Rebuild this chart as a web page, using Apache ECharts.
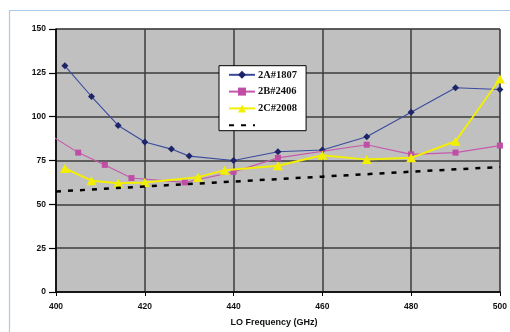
<!DOCTYPE html>
<html>
<head>
<meta charset="utf-8">
<script src="https://cdn.jsdelivr.net/npm/echarts@6/dist/echarts.min.js"></script>
<style>
  html, body { margin: 0; padding: 0; background: #ffffff; }
  #chart { width: 510px; height: 332px; }
</style>
</head>
<body>
<div id="chart"></div>
<script>
// LO frequency sweeps (GHz) and measured values for each device
const freqA = [402, 408, 414, 420, 426, 430, 440, 450, 460, 470, 480, 490, 500];
const valsA = [129, 111.5, 95, 85.5, 81.5, 77.5, 75, 80, 81, 88.5, 102.5, 116.5, 115.5];

const freqB = [399, 405, 411, 417, 429, 440, 450, 470, 480, 490, 500, 501.6];
const valsB = [89, 79.5, 72.5, 65, 62.5, 68.5, 76.5, 84, 78.5, 79.5, 83.5, 88.7];

const freqC = [402, 408, 414, 420, 432, 438, 450, 460, 470, 480, 490, 500];
const valsC = [70.5, 63.5, 62, 62.5, 65.5, 69.5, 72, 78, 75.5, 76.5, 86, 121.5];

// reference trend line
const freqD = [400, 420, 440, 460, 480, 500];
const valsD = [57.3, 60.2, 63, 65.8, 68.6, 71.3];

const seriesNames = ['2A#1807', '2B#2406', '2C#2008', ' '];
const xTicks = { min: 400, max: 500, step: 20 };
const yTicks = { min: 0, max: 150, step: 25 };

function pairs(xs, ys) {
  return xs.map((x, i) => [x, ys[i]]);
}

// end points of the 2B trace carry no marker
const dataB = pairs(freqB, valsB).map((p, i, arr) =>
  (i === 0 || i === arr.length - 1) ? { value: p, symbol: 'none' } : p);

const chart = echarts.init(document.getElementById('chart'), null, { renderer: 'canvas' });

const axisFont = {
  fontFamily: 'Liberation Sans, Arial, sans-serif',
  fontWeight: 'bold',
  fontSize: 8.5,
  color: '#111'
};

chart.setOption({
  animation: false,
  backgroundColor: '#ffffff',
  graphic: [
    {
      type: 'rect',
      silent: true,
      z: -10,
      shape: { x: 9.5, y: 10.5, width: 600, height: 400 },
      style: { fill: 'none', stroke: '#a9cbea', lineWidth: 1.2 }
    }
  ],
  grid: {
    left: 56,
    right: 7.3,
    top: 29,
    bottom: 38,
    show: true,
    backgroundColor: '#c0c0c0',
    borderColor: '#8a8a8a',
    borderWidth: 1
  },
  legend: {
    orient: 'vertical',
    left: 219,
    top: 65.7,
    backgroundColor: '#ffffff',
    borderColor: '#000000',
    borderWidth: 1,
    borderRadius: 0,
    padding: [3.6, 9, 0, 9],
    itemWidth: 26,
    itemHeight: 10,
    itemGap: 5.8,
    data: [
      seriesNames[0],
      seriesNames[1],
      seriesNames[2],
      { name: seriesNames[3], itemStyle: { opacity: 0 } }
    ],
    textStyle: {
      fontFamily: 'Liberation Serif, Times New Roman, serif',
      fontWeight: 'bold',
      fontSize: 10.5,
      lineHeight: 10,
      color: '#111',
      padding: [0, 0, 0, -2]
    }
  },
  xAxis: {
    type: 'value',
    min: xTicks.min,
    max: xTicks.max,
    interval: xTicks.step,
    name: 'LO Frequency (GHz)',
    nameLocation: 'middle',
    nameGap: 26,
    nameTextStyle: Object.assign({}, axisFont, { fontSize: 9, padding: [0, 8, 0, 0] }),
    axisLine: { show: true, lineStyle: { color: '#000', width: 1.5 } },
    axisTick: { show: true, length: 4, lineStyle: { color: '#000', width: 1 } },
    axisLabel: Object.assign({}, axisFont, { margin: 10 }),
    splitLine: { show: true, lineStyle: { color: '#3c3c3c', width: 1.5 } }
  },
  yAxis: {
    type: 'value',
    min: yTicks.min,
    max: yTicks.max,
    interval: yTicks.step,
    axisLine: { show: true, lineStyle: { color: '#000', width: 1.5 } },
    axisTick: { show: true, length: 7, lineStyle: { color: '#000', width: 1.2 } },
    axisLabel: Object.assign({}, axisFont, { margin: 10 }),
    splitLine: { show: true, lineStyle: { color: '#3c3c3c', width: 1.5 } }
  },
  series: [
    {
      name: seriesNames[0],
      type: 'line',
      data: pairs(freqA, valsA),
      symbol: 'diamond',
      symbolSize: 7,
      itemStyle: { color: '#1d2468' },
      lineStyle: { color: '#3a4b9e', width: 1.1 },
      clip: false,
      z: 3
    },
    {
      name: seriesNames[1],
      type: 'line',
      data: dataB,
      symbol: 'rect',
      symbolSize: 6,
      itemStyle: { color: '#c04ea6' },
      lineStyle: { color: '#c659ad', width: 1.1 },
      clip: false,
      z: 4
    },
    {
      name: seriesNames[2],
      type: 'line',
      data: pairs(freqC, valsC),
      symbol: 'triangle',
      symbolSize: [10, 9],
      itemStyle: { color: '#f2f000' },
      lineStyle: { color: '#f2f000', width: 2 },
      clip: false,
      z: 5
    },
    {
      name: seriesNames[3],
      type: 'line',
      data: pairs(freqD, valsD),
      symbol: 'none',
      itemStyle: { color: '#000' },
      lineStyle: { color: '#000', width: 2.5, type: [5, 7] },
      z: 6
    }
  ]
});
</script>
</body>
</html>
